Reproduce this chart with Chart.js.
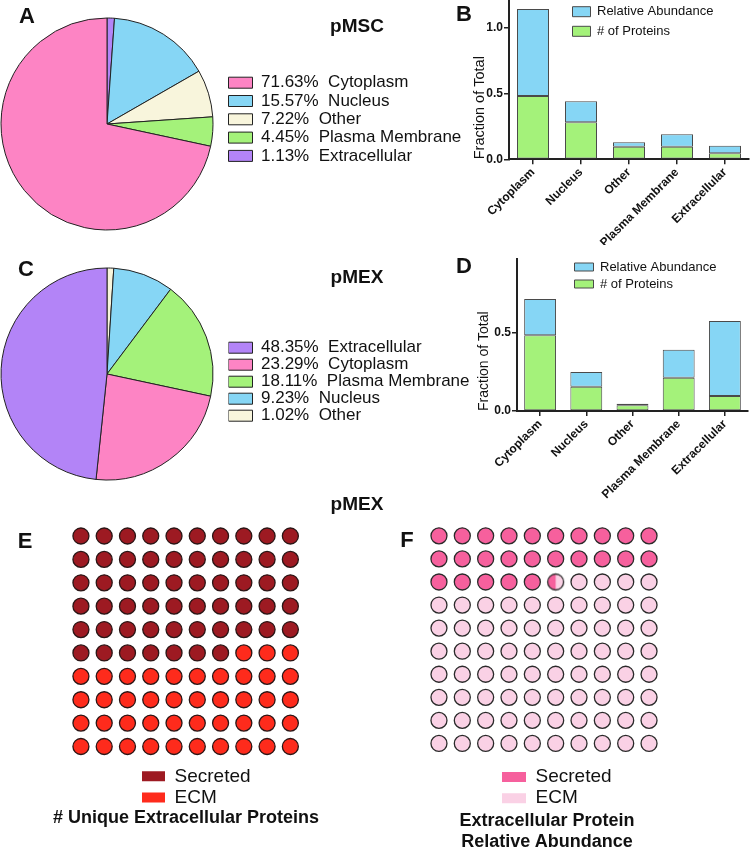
<!DOCTYPE html>
<html>
<head>
<meta charset="utf-8">
<title>pMSC / pMEX subcellular distribution</title>
<script src="https://cdn.jsdelivr.net/npm/chart.js@4.4.1/dist/chart.umd.min.js"></script>
<style>
  html, body { margin:0; padding:0; background:#ffffff; }
  #fig { position:relative; width:750px; height:850px; overflow:hidden; background:#fff;
         font-family:'Liberation Sans', Arial, Helvetica, sans-serif; color:#111; }
  #fig canvas { position:absolute; }
  .lbl { position:absolute; white-space:nowrap; font-weight:bold; line-height:1; transform:translate(-50%,-50%); }
</style>
</head>
<body>
<div id="fig">
  <canvas id="pieA" width="480" height="250" style="left:0px;top:0px"></canvas>
  <canvas id="pieC" width="480" height="250" style="left:0px;top:250px"></canvas>
  <canvas id="barB" width="320" height="245" style="left:430px;top:0px"></canvas>
  <canvas id="barD" width="320" height="258" style="left:430px;top:250px"></canvas>
  <canvas id="wafE" width="260" height="300" style="left:60px;top:515px"></canvas>
  <canvas id="wafF" width="260" height="300" style="left:410px;top:515px"></canvas>

  <div class="lbl" style="left:27px;top:16px;font-size:22px">A</div>
  <div class="lbl" style="left:464px;top:14px;font-size:22px">B</div>
  <div class="lbl" style="left:26px;top:269px;font-size:22px">C</div>
  <div class="lbl" style="left:464px;top:266px;font-size:22px">D</div>
  <div class="lbl" style="left:25px;top:541px;font-size:22px">E</div>
  <div class="lbl" style="left:407px;top:540px;font-size:22px">F</div>
  <div class="lbl" style="left:357px;top:25px;font-size:19px">pMSC</div>
  <div class="lbl" style="left:357px;top:276px;font-size:19px">pMEX</div>
  <div class="lbl" style="left:357px;top:503px;font-size:19px">pMEX</div>
  <div class="lbl" style="left:186px;top:817px;font-size:18px"># Unique Extracellular Proteins</div>
  <div class="lbl" style="left:547px;top:820px;font-size:18px">Extracellular Protein</div>
  <div class="lbl" style="left:547px;top:841px;font-size:18px">Relative Abundance</div>
</div>
<script>
// ---------------- data ----------------
const compartments = ['Cytoplasm', 'Nucleus', 'Other', 'Plasma Membrane', 'Extracellular'];

// pie A (pMSC), clockwise from 12 o'clock
const pieALabels = ['Extracellular', 'Nucleus', 'Other', 'Plasma Membrane', 'Cytoplasm'];
const pieAValues = [1.13, 15.57, 7.22, 4.45, 71.63];

// pie C (pMEX), clockwise from 12 o'clock
const pieCLabels = ['Other', 'Nucleus', 'Plasma Membrane', 'Cytoplasm', 'Extracellular'];
const pieCValues = [1.02, 9.23, 18.11, 23.29, 48.35];

// bar B (pMSC) fraction of total, stacked
const barBProteins  = [0.48, 0.28, 0.095, 0.095, 0.045];
const barBAbundance = [0.66, 0.16, 0.034, 0.094, 0.058];
const barBTicks = [0, 0.5, 1.0];

// bar D (pMEX) fraction of total, stacked
const barDProteins  = [0.483, 0.155, 0.036, 0.212, 0.096];
const barDAbundance = [0.232, 0.094, 0.011, 0.179, 0.478];
const barDTicks = [0, 0.5];

// waffles (out of 100 cells)
const waffleLabels = ['Secreted', 'ECM'];
const waffleEValues = [57, 43];
const waffleFValues = [25.5, 74.5];

// ---------------- styles ----------------
const FONT = "'Liberation Sans', Arial, Helvetica, sans-serif";
Chart.defaults.font.family = FONT;
Chart.defaults.color = '#111';

const compColors = {
  'Cytoplasm': '#fd84c4',
  'Nucleus': '#86d6f5',
  'Other': '#f8f5dc',
  'Plasma Membrane': '#a4f27a',
  'Extracellular': '#b384f7'
};
const BLUE = '#86d6f5', GREEN = '#a4f27a';

// plugin: place the (chartArea) legend at a given spot of the canvas
const placeLegend = {
  id: 'placeLegend',
  afterLayout(chart, args, opts) {
    const lg = chart.legend;
    if (!lg || opts.x === undefined) return;
    lg.left = opts.x; lg.top = opts.y;
    lg.right = chart.width; lg.bottom = chart.height;
    lg.width = lg.right - lg.left; lg.height = lg.bottom - lg.top;
  }
};

// ---------------- pies ----------------
function pieConfig(labels, values, legendPad, legendX, legendY) {
  return {
    type: 'pie',
    data: {
      labels: labels,
      datasets: [{
        data: values,
        backgroundColor: labels.map(l => compColors[l]),
        borderColor: '#222',
        borderWidth: 1,
        hoverOffset: 0
      }]
    },
    options: {
      responsive: false,
      animation: false,
      events: [],
      layout: { padding: { left: 0.5, right: 480 - 213.5, top: 17.5, bottom: 250 - 230.5 } },
      plugins: {
        tooltip: { enabled: false },
        legend: {
          position: 'chartArea',
          align: 'start',
          labels: {
            boxWidth: 24, boxHeight: 11, padding: legendPad,
            color: '#111',
            font: { size: 17, family: FONT },
            generateLabels: chart => {
              const ds = chart.data.datasets[0];
              return chart.data.labels.map((lab, i) => ({
                text: values[i].toFixed(2) + '%  ' + lab,
                fillStyle: ds.backgroundColor[i],
                strokeStyle: '#222',
                lineWidth: 1,
                fontColor: '#111',
                hidden: false,
                index: i
              }));
            },
            sort: (a, b) => values[b.index] - values[a.index]
          }
        },
        placeLegend: { x: legendX, y: legendY }
      }
    },
    plugins: [placeLegend]
  };
}

new Chart(document.getElementById('pieA'), pieConfig(pieALabels, pieAValues, 1.3, 227.2, 72.9));
new Chart(document.getElementById('pieC'), pieConfig(pieCLabels, pieCValues, 0, 228.5, 89.2));

// ---------------- stacked bars ----------------
function barConfig(proteins, abundance, ticks, yMax, o) {
  return {
    type: 'bar',
    data: {
      labels: compartments,
      datasets: [
        { label: '# of Proteins', data: proteins, backgroundColor: GREEN, borderColor: '#4a4a4a',
          borderWidth: 1, borderSkipped: false },
        { label: 'Relative Abundance', data: abundance, backgroundColor: BLUE, borderColor: '#4a4a4a',
          borderWidth: 1, borderSkipped: false }
      ]
    },
    options: {
      responsive: false,
      animation: false,
      events: [],
      barPercentage: o.barPct,
      categoryPercentage: 1,
      layout: { padding: { left: 0, top: o.padTop, right: o.padRight, bottom: 0 } },
      scales: {
        x: {
          stacked: true,
          grid: { display: true, drawOnChartArea: false, drawTicks: true, tickLength: 5,
                  offset: false, color: '#222', lineWidth: 1.5 },
          border: { display: true, color: '#222', width: 2 },
          ticks: { autoSkip: false, minRotation: 45, maxRotation: 45, padding: 1,
                   color: '#111', font: { size: 12, weight: 'bold' } },
          afterFit: s => { s.height = o.xHeight; s.paddingLeft = 0; s.paddingRight = 0; }
        },
        y: {
          stacked: true,
          min: 0, max: yMax,
          grid: { display: true, drawOnChartArea: false, drawTicks: true, tickLength: 5,
                  color: '#222', lineWidth: 1.5 },
          border: { display: true, color: '#222', width: 2 },
          afterBuildTicks: s => { s.ticks = ticks.map(v => ({ value: v })); },
          ticks: { padding: 1, color: '#111', font: { size: 12, weight: 'bold' },
                   callback: v => Number(v).toFixed(1) },
          title: { display: true, text: 'Fraction of Total', align: 'start', color: '#111',
                   font: { size: o.titleSize }, padding: { top: o.titlePad, bottom: 0 } },
          afterFit: s => { s.width = o.yWidth; s.paddingTop = 0; s.paddingBottom = 0; }
        }
      },
      plugins: {
        tooltip: { enabled: false },
        legend: {
          position: 'chartArea',
          align: 'start',
          reverse: true,
          labels: { boxWidth: o.boxW, boxHeight: o.boxH, padding: o.legPad, color: '#111',
                    font: { size: 13, family: FONT } }
        },
        placeLegend: { x: o.legX, y: o.legY }
      }
    },
    plugins: [placeLegend]
  };
}

new Chart(document.getElementById('barB'), barConfig(barBProteins, barBAbundance, barBTicks, 1.2, {
  barPct: 0.667, padTop: 1, padRight: 1, xHeight: 245 - 159.3, yWidth: 79,
  titleSize: 14.5, titlePad: 41.5, boxW: 18, boxH: 10, legPad: 6.6, legX: 142.5 - 6.6, legY: 5.2 - 6.6
}));
new Chart(document.getElementById('barD'), barConfig(barDProteins, barDAbundance, barDTicks, 0.97, {
  barPct: 0.69, padTop: 9, padRight: 2, xHeight: 258 - 161, yWidth: 87,
  titleSize: 14, titlePad: 45.5, boxW: 19, boxH: 8, legPad: 4, legX: 144.5 - 4, legY: 10.5 - 4
}));

// ---------------- waffles ----------------
function partialCell(frac, r, bw, cFrac, cRest, stroke) {
  const s = Math.ceil(2 * (r + bw)) + 2;
  const cv = document.createElement('canvas');
  cv.width = s; cv.height = s;
  const g = cv.getContext('2d');
  const c = s / 2;
  g.fillStyle = cRest;
  g.beginPath(); g.arc(c, c, r, 0, Math.PI * 2); g.fill();
  g.fillStyle = cFrac;
  g.beginPath(); g.moveTo(c, c);
  g.arc(c, c, r, -Math.PI / 2, -Math.PI / 2 - frac * 2 * Math.PI, true);
  g.closePath(); g.fill();
  g.lineWidth = bw; g.strokeStyle = stroke;
  g.beginPath(); g.arc(c, c, r, 0, Math.PI * 2); g.stroke();
  return cv;
}

function waffleConfig(values, colors, stroke, pad, leg) {
  const full = Math.floor(values[0]);
  const frac = values[0] - full;
  const first = [], part = [], second = [];
  for (let i = 0; i < 100; i++) {
    const p = { x: i % 10, y: Math.floor(i / 10) };
    if (i < full) first.push(p);
    else if (i === full && frac > 0) part.push(p);
    else second.push(p);
  }
  const R = 8, BW = 1.3;
  const common = { pointRadius: R, pointBorderWidth: BW, pointBorderColor: stroke,
                   pointHoverRadius: R, showLine: false, clip: false };
  return {
    type: 'scatter',
    data: {
      datasets: [
        Object.assign({ label: waffleLabels[0], data: first, backgroundColor: colors[0],
                        pointBackgroundColor: colors[0], borderColor: stroke }, common),
        Object.assign({ label: waffleLabels[1], data: second, backgroundColor: colors[1],
                        pointBackgroundColor: colors[1], borderColor: stroke }, common),
        Object.assign({ label: 'partial', data: part, backgroundColor: colors[0], borderColor: stroke,
                        pointStyle: partialCell(frac, R, BW, colors[0], colors[1], stroke) }, common)
      ]
    },
    options: {
      responsive: false,
      animation: false,
      events: [],
      layout: { padding: pad },
      scales: {
        x: { type: 'linear', min: -0.5, max: 9.5, display: false },
        y: { type: 'linear', min: -0.5, max: 9.5, reverse: true, display: false }
      },
      plugins: {
        tooltip: { enabled: false },
        legend: {
          position: 'chartArea',
          align: 'start',
          labels: {
            boxWidth: leg.boxW, boxHeight: 10, padding: 2.2, color: '#111',
            font: { size: 19, family: FONT },
            generateLabels: chart => chart.data.datasets.slice(0, 2).map((ds, i) => ({
              text: ds.label, fillStyle: ds.backgroundColor, strokeStyle: ds.backgroundColor,
              lineWidth: 0, fontColor: '#111', hidden: false, datasetIndex: i
            }))
          }
        },
        placeLegend: { x: leg.x, y: leg.y }
      }
    },
    plugins: [placeLegend]
  };
}

new Chart(document.getElementById('wafE'), waffleConfig(waffleEValues, ['#9d1a22', '#fe2b1c'], '#2a1616',
  { left: 6.9, right: 18, top: 9.1, bottom: 56.8 }, { boxW: 23, x: 79.8, y: 249.6 }));
new Chart(document.getElementById('wafF'), waffleConfig(waffleFValues, ['#f6609d', '#fad1e5'], '#2a2a2a',
  { left: 17.3, right: 9.3, top: 6.7, bottom: 60 }, { boxW: 24, x: 89.8, y: 250.3 }));
</script>
</body>
</html>
